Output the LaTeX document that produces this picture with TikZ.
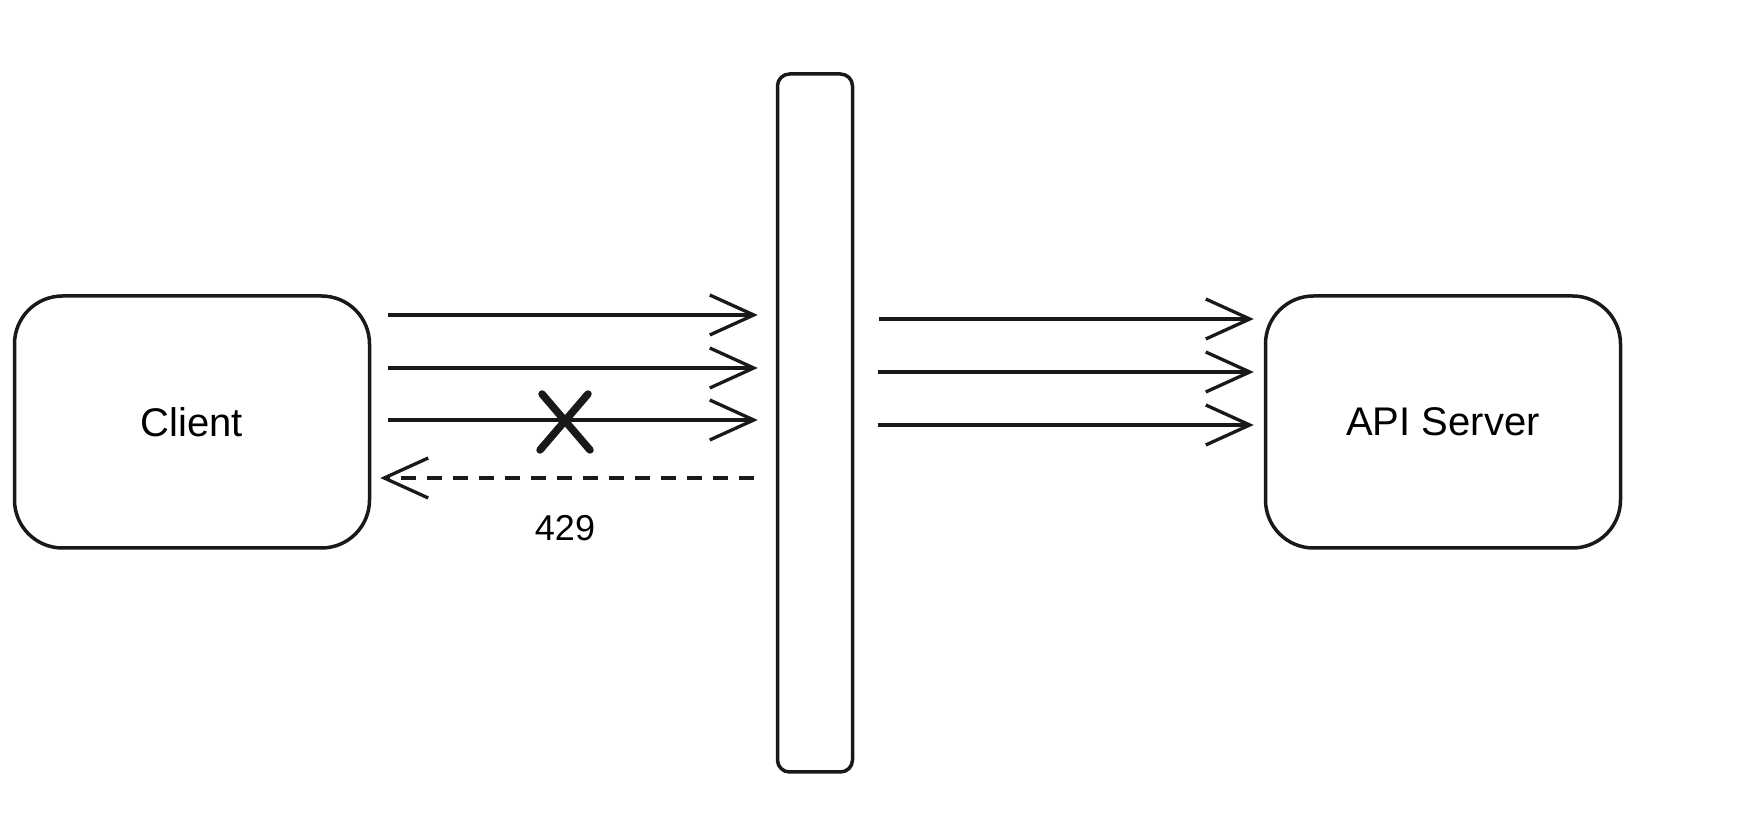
\documentclass[tikz,border=0pt]{standalone}
\usepackage{fontspec}
\setmainfont{Liberation Sans}
\usetikzlibrary{arrows.meta,calc}
\begin{document}
\begin{tikzpicture}[x=1pt,y=1pt,
  box/.style={draw=black!90,line width=3.5pt,rounded corners=48pt,minimum width=355pt,minimum height=252pt,inner sep=0pt,font=\fontsize{40}{48}\selectfont},
  bar/.style={draw=black!90,line width=3.5pt,rounded corners=12pt,minimum width=75pt,minimum height=698pt,inner sep=0pt},
  arr/.style={draw=black!90,line width=4.2pt,-{Straight Barb[length=44pt,width=40pt,line width=3.3pt]}},
  darr/.style={draw=black!90,line width=3.5pt,dash pattern=on 15pt off 11pt,-{Straight Barb[length=44pt,width=40pt,line width=3.3pt]}},
  lbl/.style={font=\fontsize{36}{44}\selectfont,inner sep=0pt},
  cross/.style={draw=black!90,line width=7.5pt,line cap=round}]
\useasboundingbox (0,0) rectangle (1754,814);
\node[box] (client) at (192,392) {Client};
\node[box] (api) at (1443,392) {API Server};
\node[bar] (bar) at (815,391) {};
% left arrows
\draw[arr] ([shift={(17,107)}]client.east) -- ([shift={(-18,107)}]bar.west |- client.east);
\draw[arr] ([shift={(17,54)}]client.east) -- ([shift={(-18,54)}]bar.west |- client.east);
\draw[arr] ([shift={(17,2)}]client.east) -- ([shift={(-18,2)}]bar.west |- client.east);
\draw[darr] ([shift={(-22,-56)}]bar.west |- client.east) -- ([shift={(9,-56)}]client.east);
\node[lbl] (code) at (565,286) {429};
\coordinate (xc) at (565,391);
\draw[cross] ($(xc)+(-25,-27)$) -- ($(xc)+(23,29)$);
\draw[cross] ($(xc)+(-23,29)$) -- ($(xc)+(25,-27)$);
% right arrows
\draw[arr] ([shift={(25,103)}]bar.east |- api.west) -- ([shift={(-10,103)}]api.west);
\draw[arr] ([shift={(24,50)}]bar.east |- api.west) -- ([shift={(-10,50)}]api.west);
\draw[arr] ([shift={(24,-3)}]bar.east |- api.west) -- ([shift={(-10,-3)}]api.west);
\end{tikzpicture}
\end{document}
